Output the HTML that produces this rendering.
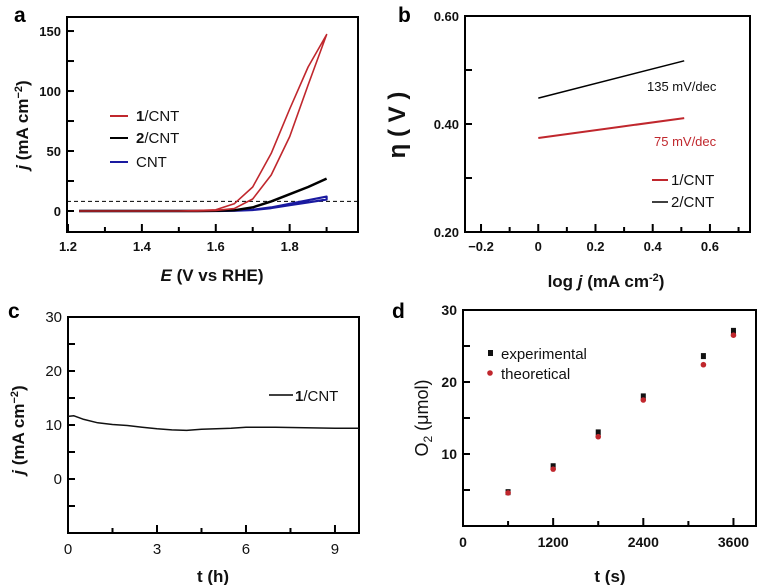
<!DOCTYPE html>
<html><head><meta charset="utf-8">
<style>
html,body{margin:0;padding:0;background:#fff;overflow:hidden;}
svg{display:block;font-family:"Liberation Sans",Arial,sans-serif;}
.tk{font-size:13px;font-weight:bold;fill:#111;}
.tkc{font-size:15px;fill:#111;}
.tkd{font-size:14px;font-weight:bold;fill:#111;}
.ttl{font-size:17px;font-weight:bold;fill:#111;}
.pl{font-size:21px;font-weight:bold;fill:#000;}
.lg{font-size:15px;fill:#111;}
</style></head>
<body>
<svg id="fig" width="762" height="585" viewBox="0 0 762 585" xmlns="http://www.w3.org/2000/svg">
  <text class="pl" x="14" y="22">a</text>
  <text class="pl" x="398" y="22">b</text>
  <text class="pl" x="8" y="318">c</text>
  <text class="pl" x="392" y="318">d</text>

  <text class="ttl" transform="translate(28,125) rotate(-90)" text-anchor="middle"><tspan font-style="italic">j</tspan> (mA cm<tspan font-size="11" dy="-6">−2</tspan><tspan dy="6">)</tspan></text>
  <text class="ttl" x="212" y="281" text-anchor="middle"><tspan font-style="italic">E</tspan> (V vs RHE)</text>
  <text class="ttl" style="font-size:24px" transform="translate(405,125) rotate(-90)" text-anchor="middle">η ( V )</text>
  <text class="ttl" x="606" y="287" text-anchor="middle">log <tspan font-style="italic">j</tspan> (mA cm<tspan font-size="11" dy="-6">-2</tspan><tspan dy="6">)</tspan></text>
  <text class="ttl" transform="translate(24,430) rotate(-90)" text-anchor="middle"><tspan font-style="italic">j</tspan> (mA cm<tspan font-size="11" dy="-6">−2</tspan><tspan dy="6">)</tspan></text>
  <text class="ttl" x="213" y="582" text-anchor="middle">t (h)</text>
  <text class="ttl" style="font-weight:normal;font-size:18px" transform="translate(428,418) rotate(-90)" text-anchor="middle">O<tspan font-size="12" dy="4">2</tspan><tspan dy="-4"> (μmol)</tspan></text>
  <text class="ttl" x="610" y="582" text-anchor="middle">t (s)</text>

  <g>
    <line x1="110" y1="116" x2="128" y2="116" stroke="#c0272d" stroke-width="2"/>
    <text class="lg" x="136" y="121"><tspan font-weight="bold">1</tspan>/CNT</text>
    <line x1="110" y1="138" x2="128" y2="138" stroke="#000" stroke-width="2"/>
    <text class="lg" x="136" y="143"><tspan font-weight="bold">2</tspan>/CNT</text>
    <line x1="110" y1="162" x2="128" y2="162" stroke="#1a1aa0" stroke-width="2"/>
    <text class="lg" x="136" y="167">CNT</text>
  </g>
  <g>
    <line x1="652" y1="180" x2="668" y2="180" stroke="#c0272d" stroke-width="2"/>
    <text class="lg" x="671" y="185">1/CNT</text>
    <line x1="652" y1="202" x2="668" y2="202" stroke="#000" stroke-width="1.5"/>
    <text class="lg" x="671" y="207">2/CNT</text>
    <text class="lg" style="font-size:13px" x="647" y="91">135 mV/dec</text>
    <text class="lg" style="font-size:13px;fill:#c0272d" x="654" y="146">75 mV/dec</text>
  </g>
  <g>
    <line x1="269" y1="395" x2="293" y2="395" stroke="#000" stroke-width="1.5"/>
    <text class="lg" x="295" y="401"><tspan font-weight="bold">1</tspan>/CNT</text>
  </g>
  <g>
    <rect x="488" y="350" width="5" height="6" fill="#111"/>
    <text class="lg" x="501" y="359">experimental</text>
    <circle cx="490" cy="373" r="2.8" fill="#c0272d"/>
    <text class="lg" x="501" y="379">theoretical</text>
  </g>
</svg>
<script>
// Panel a data
const aE = [1.23,1.4,1.5,1.55,1.6,1.65,1.7,1.75,1.8,1.85,1.9];
const aRedFwd = [0,0,0,0.3,1,6,20,48,85,120,147];
const aRedRev = [0,0,0,0.1,0.5,2,10,30,62,105,147];
const aBlack = [0,0,0,0,0.2,0.6,3,8,14,20,27];
const aBlue = [0,0,0,0,0,0.2,1,3,6,9,12];
const aDashed = 8;
const aXTicks = ["1.2","1.4","1.6","1.8"];
const aYTicks = ["0","50","100","150"];
// Panel b data
const bX = [0,0.51];
const bRed = [0.374,0.411];
const bBlack = [0.448,0.517];
const bXTicks = ["−0.2","0","0.2","0.4","0.6"];
const bYTicks = ["0.20","0.40","0.60"];
// Panel c data
const cT = [0,0.2,0.5,1,1.5,2,2.5,3,3.5,4,4.5,5,5.5,6,7,8,9,9.81];
const cJ = [11.6,11.7,11.1,10.4,10.1,9.9,9.6,9.3,9.1,9.0,9.2,9.3,9.4,9.6,9.6,9.5,9.4,9.4];
const cXTicks = ["0","3","6","9"];
const cYTicks = ["0","10","20","30"];
// Panel d data
const dT = [600,1200,1800,2400,3200,3600];
const dExp = [4.7,8.3,13.0,18.0,23.6,27.1];
const dTheo = [4.6,7.9,12.4,17.5,22.4,26.5];
const dXTicks = ["0","1200","2400","3600"];
const dYTicks = ["10","20","30"];

const NS = "http://www.w3.org/2000/svg";
const svg = document.getElementById('fig');
function mk(tag, attrs, parent){const e=document.createElementNS(NS,tag);for(const k in attrs)e.setAttribute(k,attrs[k]);(parent||svg).appendChild(e);return e;}
function scale(d0,d1,r0,r1){return v=>r0+(v-d0)/(d1-d0)*(r1-r0);}

function axes(name,L,R,T,B,x,y,xt,yt,xMinor,yMinor,cls,fmt,xOff){
  const g=mk('g',{});
  
  
  mk('rect',{x:L,y:T,width:R-L,height:B-T,fill:'none',stroke:'#000','stroke-width':2},g);
  xMinor.forEach((v,i)=>{const px=x(v);const major=i%2===0;mk('line',{x1:px,x2:px,y1:B,y2:B-(major?8:5),stroke:'#000','stroke-width':2},g);});
  yMinor.forEach(v=>{const py=y(v);mk('line',{x1:L,x2:L+7,y1:py,y2:py,stroke:'#000','stroke-width':2},g);});
  xt.forEach(s=>{const t=mk('text',{x:x(fmt(s)),y:B+(xOff||19),'text-anchor':'middle',class:cls},g);t.textContent=s;
    
    });
  yt.forEach(s=>{const t=mk('text',{x:L-6,y:y(fmt(s))+5,'text-anchor':'end',class:cls},g);t.textContent=s;
    
    });
}
const num=s=>parseFloat(s.replace('−','-'));
function path(xs,ys,x,y){return xs.map((v,i)=>(i?'L':'M')+x(v).toFixed(1)+','+y(ys[i]).toFixed(1)).join(' ');}
function curve(name,d,color,w,dash){const p=mk('path',{d:d,fill:'none',stroke:color,'stroke-width':w,'stroke-linejoin':'round'});if(dash)p.setAttribute('stroke-dasharray',dash);
  
  return p;}

// Panel a
{const x=scale(1.2,1.985,68,358),y=scale(-17.5,161.7,232,17);
 axes('a',67,358,17,232,x,y,aXTicks,aYTicks,[1.2,1.3,1.4,1.5,1.6,1.7,1.8,1.9],[0,25,50,75,100,125,150],'tk',num);
 curve('a-threshold-line','M67,'+y(aDashed)+' L358,'+y(aDashed),'#000',1,'4,3');
 curve('a-curve-cnt',path(aE,aBlue,x,y)+' '+path(aE.slice().reverse(),aBlue.slice().reverse().map(v=>v*0.8),x,y).replace('M','L'),'#1a1aa0',2.2);
 curve('a-curve-2cnt',path(aE,aBlack,x,y),'#000',2.5);
 curve('a-curve-1cnt',path(aE,aRedFwd,x,y)+' '+path(aE.slice().reverse(),aRedRev.slice().reverse(),x,y).replace('M','L'),'#c0272d',1.6);
}
// Panel b
{const x=scale(-0.256,0.74,465,750),y=scale(0.2,0.6,232,16);
 axes('b',465,750,16,232,x,y,bXTicks,bYTicks,[-0.2,-0.1,0,0.1,0.2,0.3,0.4,0.5,0.6,0.7],[0.2,0.3,0.4,0.5,0.6],'tk',num);
 curve('b-tafel-2cnt',path(bX,bBlack,x,y),'#000',1.5);
 curve('b-tafel-1cnt',path(bX,bRed,x,y),'#c0272d',2);
}
// Panel c
{const x=scale(0,9.81,68,359),y=scale(-10,30,533,317);
 axes('c',68,359,317,533,x,y,cXTicks,cYTicks,[0,1.5,3,4.5,6,7.5,9],[-5,0,5,10,15,20,25,30],'tkc',num,21);
 curve('c-stability-curve',path(cT,cJ,x,y),'#111',1.5);
}
// Panel d
{const x=scale(0,3900,463,756),y=scale(0,30,526,310);
 axes('d',463,756,310,526,x,y,dXTicks,dYTicks,[0,600,1200,1800,2400,3000,3600],[5,10,15,20,25,30],'tkd',num,21);
 dT.forEach((t,i)=>{const r=mk('rect',{x:x(t)-2.5,y:y(dExp[i])-3,width:5,height:6,fill:'#111'});
   
   });
 dT.forEach((t,i)=>{const c=mk('circle',{cx:x(t),cy:y(dTheo[i]),r:2.8,fill:'#c0272d'});
   
   });
}
</script>
</body></html>
